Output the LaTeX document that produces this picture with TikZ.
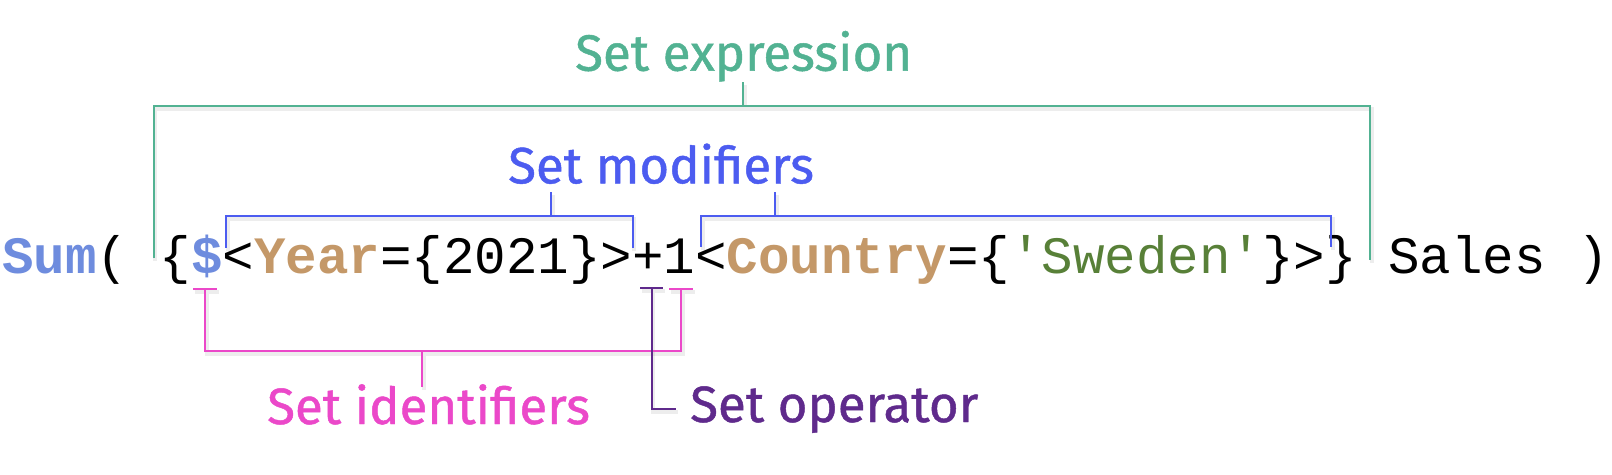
\documentclass[tikz,border=0pt]{standalone}
\usepackage{fontspec}
\setmainfont{Fira Sans}
\newfontfamily\lblfont[FakeBold=0.9]{Fira Sans}
\setmonofont{Liberation Mono}
\definecolor{cgreen}{RGB}{82,178,146}
\definecolor{cblue}{RGB}{76,92,240}
\definecolor{cpink}{RGB}{235,72,201}
\definecolor{cpurple}{RGB}{95,42,140}
\definecolor{csum}{RGB}{110,140,222}
\definecolor{ctan}{RGB}{196,152,104}
\definecolor{cswe}{RGB}{88,128,56}
\tikzset{
  lbl/.style={inner sep=0pt, anchor=base west, font=\lblfont\fontsize{51}{60}\selectfont},
  code/.style={inner sep=0pt, anchor=base west, font=\ttfamily\fontsize{52.5}{60}\selectfont},
  brk/.style={line width=2pt},
  shd/.style={line width=4pt, draw=black, opacity=0.07, transform canvas={shift={(1.5pt,-3pt)}}}
}
\begin{document}
\begin{tikzpicture}[x=1pt,y=-1pt]
\useasboundingbox[fill=white] (0,0) rectangle (1612,474);
% code line
\node[code] (codeline) at (2,273.5) {\textcolor{csum}{\textbf{Sum}}( \{\textcolor{csum}{\textbf{\$}}<\textcolor{ctan}{\textbf{Year}}=\{2021\}>+1<\textcolor{ctan}{\textbf{Country}}=\{\textcolor{cswe}{'Sweden'}\}>\} Sales )};
% labels
\node[lbl, text=cgreen] (lexpr) at (575,70.7) {Set expression};
\node[lbl, text=cblue] (lmod) at (508,183.3) {Set modifiers};
\node[lbl, text=cpink] (lid) at (267,424) {Set identifiers};
\node[lbl, text=cpurple] (lop) at (690,422) {Set operator};
% coordinates
\coordinate (g1) at (153.5,258); \coordinate (g2) at (153.5,106);
\coordinate (g3) at (1370,106); \coordinate (g4) at (1370,260);
\coordinate (gt1) at (743,82); \coordinate (gt2) at (743,106);
\coordinate (b1) at (226,248); \coordinate (b2) at (226,216);
\coordinate (b3) at (632.5,216); \coordinate (b4) at (632.5,248);
\coordinate (bt1) at (551,192); \coordinate (bt2) at (551,216);
\coordinate (c1) at (701,247); \coordinate (c2) at (701,216);
\coordinate (c3) at (1331,216); \coordinate (c4) at (1331,247);
\coordinate (ct1) at (775,192); \coordinate (ct2) at (775,216);
\coordinate (p1a) at (193,289); \coordinate (p1b) at (217,289);
\coordinate (p1) at (205,289); \coordinate (p2) at (205,351);
\coordinate (p3) at (681,351); \coordinate (p4) at (681,289);
\coordinate (p4a) at (669,289); \coordinate (p4b) at (693,289);
\coordinate (pt1) at (422,351); \coordinate (pt2) at (422,387);
\coordinate (q1a) at (640,288); \coordinate (q1b) at (663,288);
\coordinate (q1) at (651.5,288); \coordinate (q2) at (651.5,409); \coordinate (q3) at (676,409);
% shadows
\draw[shd] (g1) -- (g2) -- (g3) -- (g4) (gt1) -- (gt2);
\draw[shd] (b1) -- (b2) -- (b3) -- (b4) (bt1) -- (bt2);
\draw[shd] (c1) -- (c2) -- (c3) -- (c4) (ct1) -- (ct2);
\draw[shd] (p1a) -- (p1b) (p1) -- (p2) -- (p3) -- (p4) (p4a) -- (p4b) (pt1) -- (pt2);
\draw[shd] (q1a) -- (q1b) (q1) -- (q2) -- (q3);
% brackets
\draw[brk, cgreen] (g1) -- (g2) -- (g3) -- (g4) (gt1) -- (gt2);
\draw[brk, cblue] (b1) -- (b2) -- (b3) -- (b4) (bt1) -- (bt2);
\draw[brk, cblue] (c1) -- (c2) -- (c3) -- (c4) (ct1) -- (ct2);
\draw[brk, cpink] (p1a) -- (p1b) (p1) -- (p2) -- (p3) -- (p4) (p4a) -- (p4b) (pt1) -- (pt2);
\draw[brk, cpurple] (q1a) -- (q1b) (q1) -- (q2) -- (q3);
\end{tikzpicture}
\end{document}
